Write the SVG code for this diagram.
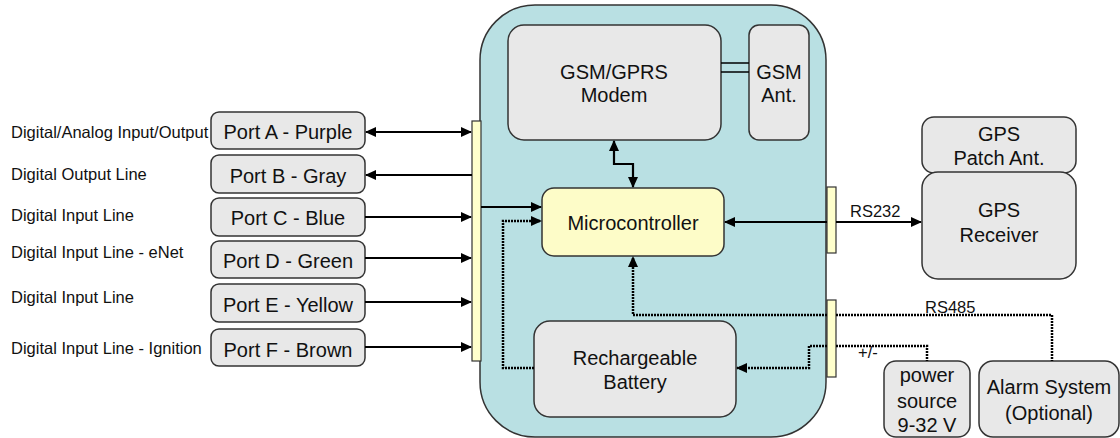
<svg xmlns="http://www.w3.org/2000/svg" width="1120" height="438" viewBox="0 0 1120 438">
<style>
text{font-family:"Liberation Sans",Arial,sans-serif;fill:#111}
.lbl{font-size:16.5px}
.nt{font-size:20px;text-anchor:middle}
.node{fill:#e8e8e8;stroke:#333;stroke-width:1.5}
.bar{fill:#ffffcc;stroke:#333;stroke-width:1.2}
.sol{fill:none;stroke:#000;stroke-width:2.2}
.dot{fill:none;stroke:#000;stroke-width:2.5;stroke-dasharray:2 1}
</style>
<defs>
<marker id="ah" markerWidth="11" markerHeight="10" refX="10" refY="5" orient="auto-start-reverse" markerUnits="userSpaceOnUse"><path d="M0,0 L11,5 L0,10 z" fill="#000"/></marker>
</defs>
<rect width="1120" height="438" fill="#fff"/>

<g id="device"><rect x="480" y="5" width="346" height="432" rx="55" fill="#b9e0e3" stroke="#333" stroke-width="1.5"/></g>

<g id="labels">
<text class="lbl" x="11" y="138">Digital/Analog Input/Output</text>
<text class="lbl" x="11" y="180">Digital Output Line</text>
<text class="lbl" x="11" y="221">Digital Input Line</text>
<text class="lbl" x="11" y="258">Digital Input Line - eNet</text>
<text class="lbl" x="11" y="303">Digital Input Line</text>
<text class="lbl" x="11" y="354">Digital Input Line - Ignition</text>
</g>

<g id="portA"><rect class="node" x="211" y="112" width="154" height="37" rx="8"/><text class="nt" x="288" y="139">Port A - Purple</text></g>
<g id="portB"><rect class="node" x="211" y="155" width="154" height="38" rx="8"/><text class="nt" x="288" y="183">Port B - Gray</text></g>
<g id="portC"><rect class="node" x="211" y="198" width="154" height="38" rx="8"/><text class="nt" x="288" y="225">Port C - Blue</text></g>
<g id="portD"><rect class="node" x="211" y="241" width="154" height="37" rx="8"/><text class="nt" x="288" y="268">Port D - Green</text></g>
<g id="portE"><rect class="node" x="211" y="284" width="154" height="38" rx="8"/><text class="nt" x="288" y="312">Port E - Yellow</text></g>
<g id="portF"><rect class="node" x="211" y="329" width="154" height="37" rx="8"/><text class="nt" x="288" y="357">Port F - Brown</text></g>

<g id="leftBar"><rect class="bar" x="472" y="121" width="9" height="240"/></g>
<g id="rightBarTop"><rect class="bar" x="827" y="187" width="9" height="66"/></g>
<g id="rightBarBottom"><rect class="bar" x="827" y="300" width="9" height="77"/></g>

<g id="modem"><rect class="node" x="508" y="25" width="213" height="115" rx="16"/><text class="nt" x="614" y="79">GSM/GPRS</text><text class="nt" x="614" y="102">Modem</text></g>
<g id="gsmAnt"><rect class="node" x="749" y="25" width="60" height="115" rx="10"/><text class="nt" x="779" y="79">GSM</text><text class="nt" x="779" y="102">Ant.</text></g>
<g id="micro"><rect x="542" y="188" width="182" height="68" rx="12" fill="#fdfcc8" stroke="#333" stroke-width="1.5"/><text class="nt" x="633" y="230">Microcontroller</text></g>
<g id="battery"><rect class="node" x="534" y="321" width="202" height="96" rx="16"/><text class="nt" x="635" y="365">Rechargeable</text><text class="nt" x="635" y="389">Battery</text></g>
<g id="gpsAnt"><rect class="node" x="922" y="117" width="154" height="56" rx="12"/><text class="nt" x="999" y="141">GPS</text><text class="nt" x="999" y="165">Patch Ant.</text></g>
<g id="gpsRx"><rect class="node" x="922" y="172" width="154" height="107" rx="16"/><text class="nt" x="999" y="217">GPS</text><text class="nt" x="999" y="242">Receiver</text></g>
<g id="power"><rect class="node" x="884" y="361" width="86" height="76" rx="12"/><text class="nt" x="927" y="382">power</text><text class="nt" x="927" y="408">source</text><text class="nt" x="927" y="432">9-32 V</text></g>
<g id="alarm"><rect class="node" x="979" y="361" width="140" height="76" rx="14"/><text class="nt" x="1049" y="394">Alarm System</text><text class="nt" x="1049" y="420">(Optional)</text></g>

<g id="connectors">
<line class="sol" x1="366" y1="132" x2="471" y2="132" marker-start="url(#ah)" marker-end="url(#ah)"/>
<line class="sol" x1="366" y1="175" x2="472" y2="175" marker-start="url(#ah)"/>
<line class="sol" x1="365" y1="217" x2="471" y2="217" marker-end="url(#ah)"/>
<line class="sol" x1="365" y1="258" x2="471" y2="258" marker-end="url(#ah)"/>
<line class="sol" x1="365" y1="302" x2="471" y2="302" marker-end="url(#ah)"/>
<line class="sol" x1="365" y1="347" x2="471" y2="347" marker-end="url(#ah)"/>
<line x1="721" y1="63" x2="749" y2="63" stroke="#000" stroke-width="1.5"/>
<line x1="721" y1="72" x2="749" y2="72" stroke="#000" stroke-width="1.5"/>
<path class="sol" d="M614,141 V164 H633 V187" marker-start="url(#ah)" marker-end="url(#ah)"/>
<line class="sol" x1="481" y1="207" x2="541" y2="207" marker-end="url(#ah)"/>
<path class="dot" d="M534,368 H503 V221 H541" marker-end="url(#ah)"/>
<line class="sol" x1="827" y1="222" x2="725" y2="222" marker-end="url(#ah)"/>
<line class="sol" x1="836" y1="222" x2="921" y2="222" marker-end="url(#ah)"/>
<path class="dot" d="M827,315 H633 V257" marker-end="url(#ah)"/>
<path class="dot" d="M836,315 H1052 V361"/>
<path class="dot" d="M827,346 H809 V368 H737" marker-end="url(#ah)"/>
<path class="dot" d="M836,346 H927 V361"/>
<text class="lbl" x="850" y="217">RS232</text>
<text class="lbl" x="925" y="313">RS485</text>
<text class="lbl" x="858" y="358">+/-</text>
</g>
</svg>
